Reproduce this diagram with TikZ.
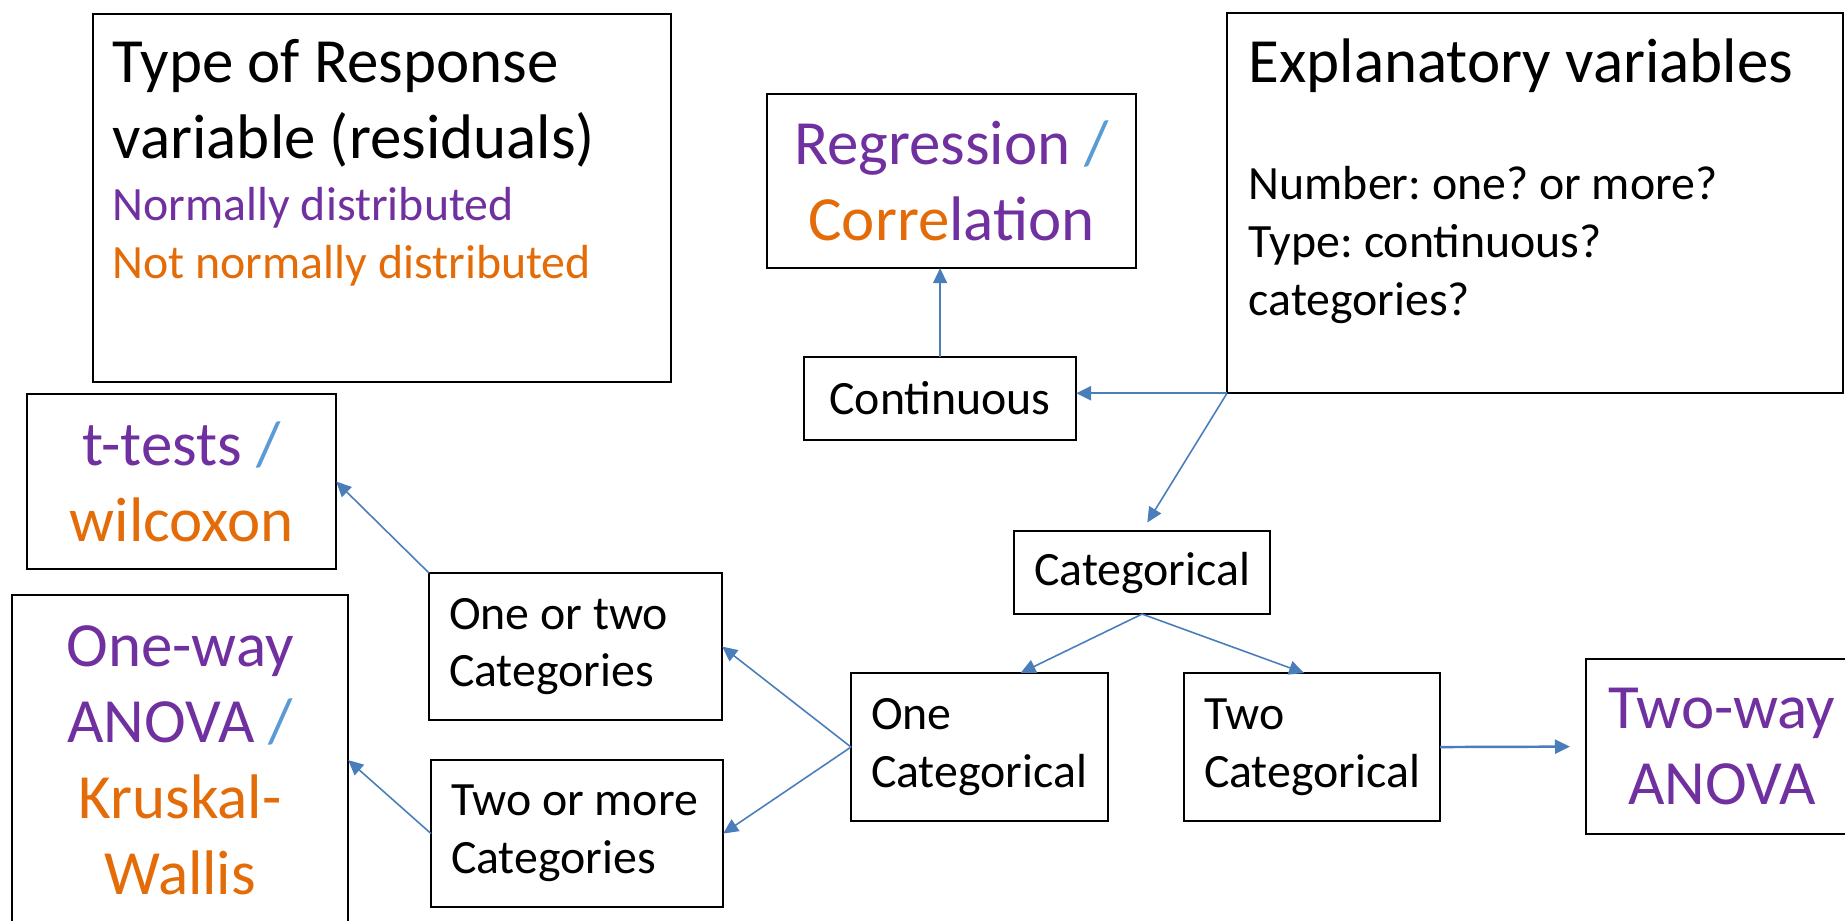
\documentclass[tikz,border=0pt]{standalone}
\usepackage{fontspec}
\setmainfont{Carlito}
\usepackage{tikz}
\usetikzlibrary{positioning,calc,arrows.meta}
\frenchspacing

\definecolor{regpurple}{RGB}{112,48,160}
\definecolor{nonorange}{RGB}{227,108,9}
\definecolor{slashblue}{RGB}{91,155,213}
\definecolor{linkblue}{RGB}{74,126,187}

\newcommand{\bigtxt}{\fontsize{17.9}{21.6}\selectfont}
\newcommand{\smalltxt}{\fontsize{13.6}{16.4}\selectfont}
\newcommand{\orsep}{\textcolor{slashblue}{/}}

\tikzset{
  box/.style={draw=black, line width=0.5pt, inner sep=0pt, outer sep=0pt, anchor=north west, align=center},
  leftbox/.style={box, align=flush left, inner xsep=0.2cm},
  link/.style={-{Stealth[inset=0pt,length=1.5mm,width=1.4mm]}, draw=linkblue, line width=0.45pt},
}

\begin{document}
\begin{tikzpicture}[x=0.01cm, y=-0.01cm]
	\useasboundingbox (0,0) rectangle (1845,920);
	\clip (0,0) rectangle (1845,920);
	
	% legend boxes
	\node[box, minimum width=5.78cm, minimum height=3.68cm] (resp) at (93,14) {};
	\node[anchor=base west, align=left, font=\bigtxt, inner sep=0pt] (resptitle) at ([shift={(19,144)}]resp.north west) {Type of Response\\variable (residuals)};
	\node[anchor=base west, align=left, font=\smalltxt, inner sep=0pt] (resplegend) at ([shift={(19,264)}]resp.north west) {\textcolor{regpurple}{Normally distributed}\\\textcolor{nonorange}{Not normally distributed}};
	
	\node[box, minimum width=6.16cm, minimum height=3.80cm] (expl) at (1227,13) {};
	\node[anchor=base west, font=\bigtxt, inner sep=0pt] (expltitle) at ([shift={(21,69)}]expl.north west) {Explanatory variables};
	\node[anchor=base west, align=left, font=\smalltxt, inner sep=0pt] (explq) at ([shift={(21,302)}]expl.north west) {Number: one? or more?\\Type: continuous?\\categories?};
	
	% decision boxes
	\node[box, font=\smalltxt, minimum width=2.72cm, minimum height=0.83cm] (cont) at (804,357) {Continuous};
	\node[box, font=\smalltxt, minimum width=2.56cm, minimum height=0.83cm] (categ) at (1014,531) {Categorical};
	\node[leftbox, font=\smalltxt, text width=2.17cm, minimum width=2.57cm, minimum height=1.48cm] (onecat) at (851,673) {One\\Categorical};
	\node[leftbox, font=\smalltxt, text width=2.16cm, minimum width=2.56cm, minimum height=1.48cm] (twocat) at (1184,673) {Two\\Categorical};
	\node[leftbox, font=\smalltxt, text width=2.53cm, minimum width=2.93cm, minimum height=1.47cm] (onetwo) at (429,573) {One or two\\Categories};
	\node[leftbox, font=\smalltxt, text width=2.52cm, minimum width=2.92cm, minimum height=1.47cm] (twomore) at (431,760) {Two or more\\Categories};
	
	% tests
	\node[box, font=\bigtxt, minimum width=3.69cm, minimum height=1.74cm] (regr) at (767,94) {\textcolor{regpurple}{Regression} \orsep\\\textcolor{nonorange}{Corre}\textcolor{regpurple}{lation}};
	\node[box, font=\bigtxt, minimum width=3.09cm, minimum height=1.75cm] (ttest) at (27,394) {\textcolor{regpurple}{t-tests} \orsep\\\textcolor{nonorange}{wilcoxon}};
	\node[box, font=\bigtxt, minimum width=3.36cm, minimum height=3.30cm] (oneway) at (12,595) {\textcolor{regpurple}{One-way}\\\textcolor{regpurple}{ANOVA} \orsep\\\textcolor{nonorange}{Kruskal-}\\\textcolor{nonorange}{Wallis}};
	\node[box, font=\bigtxt, text=regpurple, minimum width=2.72cm, minimum height=1.75cm] (twoway) at (1586,659) {Two-way\\ANOVA};
	
	% connectors
	\draw[link] (cont.north) -- (cont.north |- regr.south);
	\draw[link, line width=0.7pt] (expl.south west) -- (expl.south west -| cont.east);
	\draw[link, shorten >=0.1cm] (expl.south west) -- (categ.north);
	\draw[link] (categ.south) -- ([xshift=0.41cm]onecat.north);
	\draw[link] (categ.south) -- ([xshift=-0.08cm]twocat.north);
	\draw[link, line width=0.7pt, shorten >=0.16cm] (twocat.east) -- (twoway.west);
	\draw[link] (onecat.west) -- (onetwo.east);
	\draw[link] (onecat.west) -- (twomore.east);
	\draw[link] (onetwo.north west) -- (ttest.east);
	\draw[link] (twomore.west) -- (oneway.east);
\end{tikzpicture}
\end{document}
